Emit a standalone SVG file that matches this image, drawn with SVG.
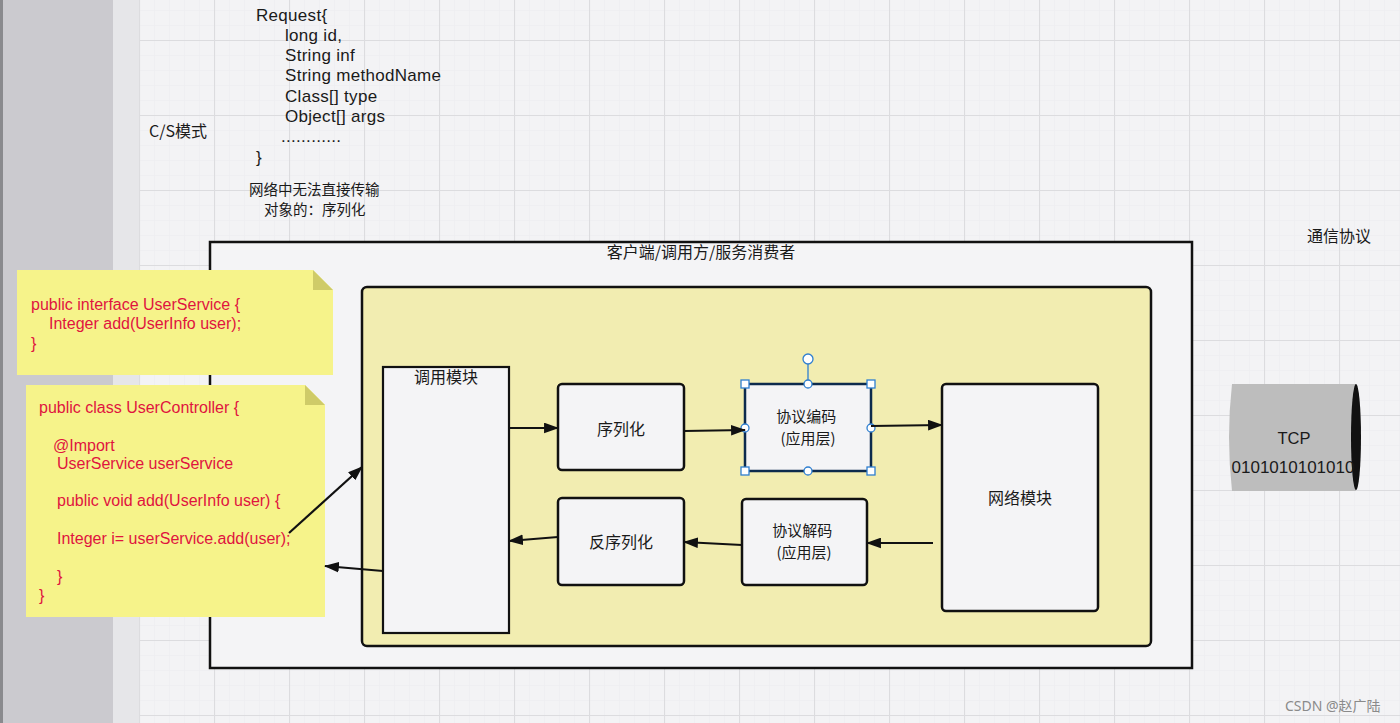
<svg xmlns="http://www.w3.org/2000/svg" width="1400" height="723" viewBox="0 0 1400 723">
  <defs>
    <style>
      .t { font-family: "Liberation Sans", "Noto Sans CJK SC", sans-serif; fill: #1a1a1a; }
      .cn { font-family: "Noto Sans CJK SC", "Noto Sans", sans-serif; fill: #1a1a1a; }
      .code { font-family: "Liberation Sans", "Noto Sans CJK SC", sans-serif; fill: #e0133f; font-size: 16px; }
      .box { fill: #f4f4f6; stroke: #111; stroke-width: 2.5; }
      .conn { stroke: #111; stroke-width: 2.2; fill: none; marker-end: url(#arr); }
      .note { fill: #f6f38a; }
      .fold { fill: #cfcb68; }
      .h { fill: #fff; stroke: #2f7fd0; stroke-width: 1.3; }
    </style>
    <marker id="arr" viewBox="0 0 14 10" refX="13" refY="5" markerWidth="15" markerHeight="11" orient="auto" markerUnits="userSpaceOnUse">
      <path d="M0,0 L14,5 L0,10 z" fill="#111"/>
    </marker>
    <pattern id="minor" width="15" height="15" patternUnits="userSpaceOnUse" x="139" y="40">
      <path d="M0,0 V15 M0,0 H15" stroke="#ececef" stroke-width="1" fill="none"/>
    </pattern>
    <pattern id="major" width="75" height="75" patternUnits="userSpaceOnUse" x="139" y="40">
      <path d="M0.5,0 V75 M0,0.5 H75" stroke="#dcdcdf" stroke-width="1.2" fill="none"/>
    </pattern>
  </defs>

  <!-- background -->
  <rect x="0" y="0" width="1400" height="723" fill="#f3f3f5"/>
  <rect x="139" y="0" width="1261" height="723" fill="url(#minor)"/>
  <rect x="139" y="0" width="1261" height="723" fill="url(#major)"/>
  <rect x="0" y="0" width="113" height="723" fill="#cbcacf"/>
  <rect x="0" y="0" width="3" height="723" fill="#8a8a8e"/>
  <rect x="113" y="0" width="26" height="723" fill="#e6e6e9"/>

  <!-- free texts -->
  <text id="request-text" class="t" font-size="17" letter-spacing="0.3">
    <tspan x="256" y="21">Request{</tspan>
    <tspan x="285" y="41">long id,</tspan>
    <tspan x="285" y="61">String inf</tspan>
    <tspan x="285" y="81">String methodName</tspan>
    <tspan x="285" y="102">Class[] type</tspan>
    <tspan x="285" y="122">Object[] args</tspan>
    <tspan x="281" y="142">............</tspan>
    <tspan x="256" y="163">}</tspan>
  </text>
  <text id="cs-label" class="cn" x="149" y="137" font-size="16">C/S模式</text>
  <text id="serial-note" class="cn" font-size="14.5">
    <tspan x="249" y="195">网络中无法直接传输</tspan>
    <tspan x="264" y="215">对象的：序列化</tspan>
  </text>
  <text id="protocol-label" class="cn" x="1307" y="242" font-size="16">通信协议</text>

  <!-- client container -->
  <g id="client">
    <rect x="210" y="242" width="982" height="426" fill="#f4f4f6" stroke="#111" stroke-width="2.5"/>
    <text class="cn" x="701" y="258" font-size="16" text-anchor="middle">客户端/调用方/服务消费者</text>
  </g>

  <g id="yellow-area">
    <rect x="362" y="287" width="789" height="359" rx="5" fill="#f2edb1" stroke="#111" stroke-width="2.5"/>
  </g>

  <g id="invoke-module">
    <rect x="383" y="367" width="126" height="266" fill="#f4f4f6" stroke="#111" stroke-width="2.2"/>
    <text class="cn" x="446" y="383" font-size="16" text-anchor="middle">调用模块</text>
  </g>

  <g id="serialize">
    <rect class="box" x="558" y="384" width="126" height="86" rx="4"/>
    <text class="cn" x="621" y="435" font-size="16" text-anchor="middle">序列化</text>
  </g>

  <g id="encode">
    <rect x="745" y="384" width="126" height="87" fill="#f4f4f6" stroke="#0d2b4d" stroke-width="2.5"/>
    <text class="cn" font-size="15" text-anchor="middle">
      <tspan x="808" y="422">协议编码</tspan>
      <tspan x="808" y="444">(应用层)</tspan>
    </text>
    <line x1="808" y1="364" x2="808" y2="384" stroke="#2f7fd0" stroke-width="1.3"/>
    <circle class="h" cx="808" cy="359" r="5"/>
    <rect class="h" x="741" y="380" width="8" height="8"/>
    <rect class="h" x="867" y="380" width="8" height="8"/>
    <rect class="h" x="741" y="467" width="8" height="8"/>
    <rect class="h" x="867" y="467" width="8" height="8"/>
    <circle class="h" cx="808" cy="384" r="4"/>
    <circle class="h" cx="808" cy="471" r="4"/>
    <circle class="h" cx="745" cy="428" r="4"/>
    <circle class="h" cx="871" cy="428" r="4"/>
  </g>

  <g id="decode">
    <rect class="box" x="742" y="499" width="125" height="86" rx="4"/>
    <text class="cn" font-size="15" text-anchor="middle">
      <tspan x="804" y="536">协议解码</tspan>
      <tspan x="804" y="558">(应用层)</tspan>
    </text>
  </g>

  <g id="deserialize">
    <rect class="box" x="558" y="498" width="126" height="87" rx="4"/>
    <text class="cn" x="621" y="548" font-size="16" text-anchor="middle">反序列化</text>
  </g>

  <g id="network-module">
    <rect class="box" x="942" y="384" width="156" height="227" rx="4"/>
    <text class="cn" x="1020" y="504" font-size="16" text-anchor="middle">网络模块</text>
  </g>

  <!-- notes -->
  <g id="note-interface">
    <path class="note" d="M17,270 H313 L333,290 V375 H17 z"/>
    <path class="fold" d="M313,270 L333,290 H313 z"/>
    <text class="code">
      <tspan x="31" y="310">public interface UserService {</tspan>
      <tspan x="49" y="329">Integer add(UserInfo user);</tspan>
      <tspan x="31" y="349">}</tspan>
    </text>
  </g>

  <g id="note-controller">
    <path class="note" d="M26,385 H305 L325,405 V617 H26 z"/>
    <path class="fold" d="M305,385 L325,405 H305 z"/>
    <text class="code">
      <tspan x="39" y="413">public class UserController {</tspan>
      <tspan x="53" y="451">@Import</tspan>
      <tspan x="57" y="469">UserService userService</tspan>
      <tspan x="57" y="506">public void add(UserInfo user) {</tspan>
      <tspan x="57" y="544">Integer i= userService.add(user);</tspan>
      <tspan x="57" y="582">}</tspan>
      <tspan x="39" y="601">}</tspan>
    </text>
  </g>

  <!-- TCP cylinder -->
  <g id="tcp">
    <path d="M1232,384 H1356 V491 H1232 Q1226,437 1232,384 z" fill="#bdbdbd"/>
    <ellipse cx="1356" cy="437" rx="5" ry="53" fill="#111"/>
    <text class="t" x="1294" y="444" font-size="16.5" text-anchor="middle" fill="#222">TCP</text>
    <text class="t" x="1293" y="473" font-size="17" text-anchor="middle" fill="#222">0101010101010</text>
  </g>

  <!-- connectors -->
  <g id="connectors">
    <line class="conn" x1="509" y1="428" x2="558" y2="428"/>
    <line class="conn" x1="684" y1="431" x2="745" y2="430"/>
    <line class="conn" x1="871" y1="426" x2="942" y2="425"/>
    <line class="conn" x1="933" y1="543" x2="867" y2="543"/>
    <line class="conn" x1="742" y1="545" x2="684" y2="542"/>
    <line class="conn" x1="558" y1="537" x2="509" y2="541"/>
    <line class="conn" x1="289" y1="533" x2="362" y2="467"/>
    <line class="conn" x1="383" y1="571" x2="325" y2="566"/>
  </g>

  <text id="watermark" x="1285" y="711" font-family="Noto Sans, Noto Sans CJK SC, sans-serif" font-size="14" fill="#8a8a8a">CSDN @赵广陆</text>
</svg>
